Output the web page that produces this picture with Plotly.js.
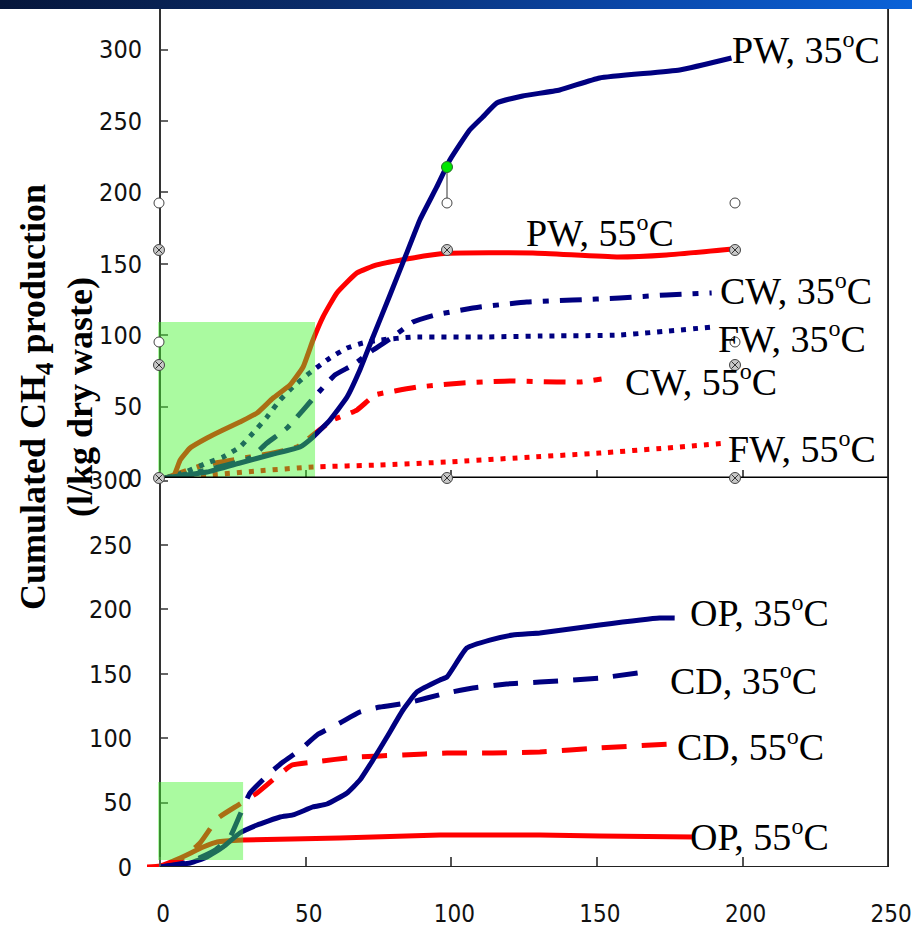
<!DOCTYPE html>
<html><head><meta charset="utf-8">
<script src="https://cdn.plot.ly/plotly-3.0.1.min.js"></script>
<style>
body{margin:0;background:#fff;}
#wrap{position:relative;width:912px;height:940px;overflow:hidden;}
#bar{position:absolute;left:0;top:0;width:912px;height:9px;background:linear-gradient(to right,#06163a 0%,#0a2c6a 35%,#0a48aa 70%,#0a62d8 100%);z-index:5;}
</style></head><body>
<div id="wrap"><div id="bar"></div><div id="chart" style="width:912px;height:940px;"></div></div>
<script>
// ---------- data (top panel: PW, CW, FW) ----------
const dayPW35 = [1.7,16.1,27.4,38.8,48.0,52.5,58.3,64.2,68.6,73.1,78.9,84.7,89.2,95.0,99.5,106.3,110.8,115.6,124.5,137.2,150.9,178.4,196.2];
const cumPW35 = [0,4.2,10.5,16.8,21.7,28.7,40.6,56.7,75.6,98.7,128,157.6,180.7,203.8,222.7,243.7,252.8,262.6,267.5,271.7,280.1,285.7,294.1];

const dayPW55 = [2,4.5,6.9,10.3,16.1,21.6,27.4,33.3,38.8,44.6,49.1,52.5,55.9,60.7,67.6,74.4,86.8,98.5,128,156.8,173.9,196.6];
const cumPW55 = [0,0.7,12.6,21,28,33.6,39.2,45.5,56,65.1,77.7,96.6,112.7,129.6,143.6,149.2,154.1,157.3,157.6,154.8,156.2,160.4];

const dayCW35 = [1.7,16.1,30.9,36.7,43.6,49.1,54.2,60.0,66.2,73.1,79.9,86.8,94.3,109.8,125.9,141.7,157.8,173.9,189.4];
const cumCW35 = [0,5.6,14,24.5,35,47.6,59.5,72.1,79.1,89.6,98.7,109.2,114.1,119.7,123.2,124.6,126.1,128.2,129.6];

const dayFW35 = [1.7,7.9,16.1,21.6,27.4,31.9,36.7,41.2,45.6,50.4,58.3,64.2,69.6,75.5,86.8,109.8,130.4,157.8,189.7];
const cumFW35 = [0,3.5,10.5,14.7,21.7,31.5,42.7,54.6,63.7,72.1,84,91,94.5,96.6,98.7,98.7,99.4,100.1,105.7];

const dayCW55 = [1.7,14.8,23,30.9,38.8,47,52.5,59.3,67.6,73.8,80.6,88.5,103.9,120.1,136.2,144.1,151.6];
const cumCW55 = [0,9.1,11.9,14.7,17.5,21.7,30.1,40.6,47.6,58.1,60.9,63.7,66.5,67.9,67.2,67.2,69.3];

const dayFW55 = [1.7,17.2,33.3,52.5,75.5,98.5,128,150.9,173.9,194.5];
const cumFW55 = [0,2.1,4.9,7.7,9.1,11.2,14.7,17.5,21,24.5];

// ---------- data (bottom panel: OP, CD) ----------
const dayOP35 = [0,10.3,16.1,21.6,27.4,33.3,41.2,45.6,52.5,57.3,64.2,68.6,73.1,77.9,83.4,88.2,96.1,98.5,105.3,113.2,121.1,130.4,150.9,171.5,176.7];
const cumOP35 = [0,3.1,7.8,15.5,26.4,32.6,38.8,40.4,46.6,48.9,57.5,67.5,83.1,100.9,121.9,135.9,145.2,147.5,170,176.2,180.1,181.7,187.9,193.3,193.3];

const dayCD35 = [0,10.3,18.9,24,27.4,30.9,37.7,42.2,48,53.9,61.7,68.6,75.5,84.7,98.5,107.4,119,130.4,150.9,166.4];
const cumCD35 = [0,3.9,13.2,23.3,40.4,57.5,73,81.5,90.8,102.5,111.8,120.3,124.2,127.3,135.1,139,142.1,143.6,146.7,151.4];

const dayCD55 = [0,6.9,13.7,19.9,26.8,33.3,39.5,45.3,52.5,67.6,83.4,98.5,114.2,130.4,150.9,175];
const cumCD55 = [0,5.4,18.6,38,48.1,57.5,69.1,79.2,81.5,85.4,87,88.5,88.5,89.3,92.4,95.5];

const dayOP55 = [-4.5,0,6.9,14.8,19.6,28.5,61.7,96.1,130.4,150.9,183.5];
const cumOP55 = [0,0.8,7,15.5,19.4,21,22.5,24.8,24.8,24.1,23.3];

const xTicks = [0,50,100,150,200,250];
const yTicks = [0,50,100,150,200,250,300];

// ---------- styling ----------
const NAVY = 'rgb(0,0,128)', RED = 'rgb(255,0,0)';
const DASHDOT = '22px,11px,6px,11px', DASH = '25px,15px';
function tr(x,y,color,dash,xa,ya){
  return {x:x,y:y,type:'scatter',mode:'lines',xaxis:xa,yaxis:ya,hoverinfo:'skip',
    line:{color:color,width:5,dash:dash,shape:'spline',smoothing:0.4}};
}
const traces = [
  tr(dayFW55,cumFW55,RED,'5px,7px','x2','y2'),
  tr(dayCW55,cumCW55,RED,DASHDOT,'x2','y2'),
  tr(dayFW35,cumFW35,NAVY,'5px,7px','x2','y2'),
  tr(dayCW35,cumCW35,NAVY,DASHDOT,'x2','y2'),
  tr(dayPW55,cumPW55,RED,'solid','x2','y2'),
  tr(dayPW35,cumPW35,NAVY,'solid','x2','y2'),
  tr(dayOP55,cumOP55,RED,'solid','x','y'),
  tr(dayCD55,cumCD55,RED,DASH,'x','y'),
  tr(dayCD35,cumCD35,NAVY,DASH,'x','y'),
  tr(dayOP35,cumOP35,NAVY,'solid','x','y')
];

const L=147, R=23, T=9, B=73, W=912, H=940;
const PW = W-L-R, PH = H-T-B;
const split = (867-478)/PH;
const XMAX = 250.3;
const yPos = (160-L)/PW;
const px = p => (p-L)/PW, py = p => (867-p)/PH;

const tickFont = {family:'"Liberation Sans Narrow","DejaVu Sans Condensed","Arial Narrow",sans-serif',size:25,color:'#111'};
const labFont = {family:'"Liberation Serif","Times New Roman",serif',size:38,color:'#000'};

const shapes = [
  // green highlight boxes (translucent, above lines)
  {type:'rect',xref:'x2',yref:'y2',x0:-0.7,x1:53.2,y0:0.7,y1:109.2,layer:'above',fillcolor:'rgb(67,244,44)',opacity:0.45,line:{width:0}},
  {type:'rect',xref:'x',yref:'y',x0:-0.7,x1:28.5,y0:5.4,y1:66,layer:'above',fillcolor:'rgb(67,244,44)',opacity:0.45,line:{width:0}},
  // axis frame lines
  {type:'line',xref:'x2',yref:'y2',x0:0,x1:250,y0:0,y1:0,line:{color:'#000',width:3}},
  {type:'line',xref:'x',yref:'y',x0:0,x1:250,y0:0,y1:0,line:{color:'#222',width:2}},
  {type:'line',xref:'x',yref:'paper',x0:250,x1:250,y0:0,y1:1,line:{color:'#222',width:2}}
];
// selection handles of the slide objects
const whiteH = [[159,203],[447,203],[735,203],[159,342],[735,342]];
const crossH = [[159,250],[447,250],[735,250],[159,365],[735,365],[159,478],[447,478],[735,478]];
function circ(p,r,fill,lc){
  return {type:'circle',xref:'paper',yref:'paper',xsizemode:'pixel',ysizemode:'pixel',
    xanchor:px(p[0]),yanchor:py(p[1]),x0:-r,x1:r,y0:-r,y1:r,fillcolor:fill,line:{color:lc,width:1},layer:'above'};
}
function seg(p,a,b,c,d){
  return {type:'line',xref:'paper',yref:'paper',xsizemode:'pixel',ysizemode:'pixel',
    xanchor:px(p[0]),yanchor:py(p[1]),x0:a,y0:b,x1:c,y1:d,line:{color:'#333',width:1},layer:'above'};
}
shapes.push(seg([447,203],0,5,0,31));
whiteH.forEach(p=>shapes.push(circ(p,5,'#fff','#444')));
crossH.forEach(p=>{
  shapes.push(circ(p,5.5,'#c8c8c8','#444'));
  shapes.push(seg(p,-3.5,-3.5,3.5,3.5));
  shapes.push(seg(p,-3.5,3.5,3.5,-3.5));
});
shapes.push(circ([447,167],5.5,'rgb(0,230,0)','#2a6a2a'));

const DEG = '<sup><span style="font-size:24px">o</span></sup>';
function lab(text,x,y,xa,ya,anchor){
  return {text:text,x:x,y:y,xref:xa,yref:ya,xanchor:anchor||'left',yanchor:'middle',showarrow:false,font:labFont};
}
const annotations = [
  lab('PW, 35'+DEG+'C',195.6,301,'x2','y2'),
  lab('PW, 55'+DEG+'C',150.9,172.3,'x2','y2','center'),
  lab('CW, 35'+DEG+'C',191.5,131.7,'x2','y2'),
  lab('FW, 35'+DEG+'C',190.8,98.7,'x2','y2'),
  lab('CW, 55'+DEG+'C',159,68.6,'x2','y2'),
  lab('FW, 55'+DEG+'C',194.2,21.7,'x2','y2'),
  lab('OP, 35'+DEG+'C',181.2,198,'x','y'),
  lab('CD, 35'+DEG+'C',174.3,145.2,'x','y'),
  lab('CD, 55'+DEG+'C',176.7,94.7,'x','y'),
  lab('OP, 55'+DEG+'C',181.2,24.8,'x','y'),
  {text:'<b>Cumulated CH<sub>4</sub> production<br>(l/kg dry waste)</b>',x:px(56),y:py(397),xref:'paper',yref:'paper',
   xanchor:'center',yanchor:'middle',textangle:-90,showarrow:false,
   font:{family:'"Liberation Serif","Times New Roman",serif',size:36,color:'#000'}}
];

const layout = {
  width:W,height:H,margin:{l:L,r:R,t:T,b:B,pad:0},
  paper_bgcolor:'#fff',plot_bgcolor:'#fff',showlegend:false,
  xaxis:{domain:[0,1],anchor:'y',range:[-4.5,XMAX],showgrid:false,zeroline:false,showline:false,
    ticks:'inside',ticklen:10,tickwidth:2,tickcolor:'#555',tickvals:xTicks,ticktext:xTicks.map(String),
    tickfont:Object.assign({},tickFont,{size:24}),ticklabelstandoff:30,ticklabelshift:3,ticklabeloverflow:'allow'},
  xaxis2:{domain:[0,1],anchor:'y2',range:[-4.5,XMAX],showgrid:false,zeroline:false,showline:false,
    ticks:'inside',ticklen:8,tickwidth:2,tickcolor:'#555',tickvals:xTicks,showticklabels:false},
  yaxis:{domain:[0,split],anchor:'free',position:yPos,range:[0,302],showgrid:false,zeroline:false,
    showline:true,linecolor:'#333',linewidth:2,ticks:'inside',ticklen:7,tickwidth:2,tickcolor:'#666',
    tickvals:yTicks,ticktext:yTicks.map(String),tickfont:tickFont,ticklabelstandoff:22},
  yaxis2:{domain:[split,1],anchor:'free',position:yPos,range:[0,328.4],showgrid:false,zeroline:false,
    showline:true,linecolor:'#333',linewidth:2,ticks:'inside',ticklen:7,tickwidth:2,tickcolor:'#666',
    tickvals:yTicks,ticktext:yTicks.map(String),tickfont:tickFont,ticklabelstandoff:12},
  shapes:shapes,annotations:annotations
};
Plotly.newPlot('chart',traces,layout,{displayModeBar:false,staticPlot:true});
</script>
</body></html>
